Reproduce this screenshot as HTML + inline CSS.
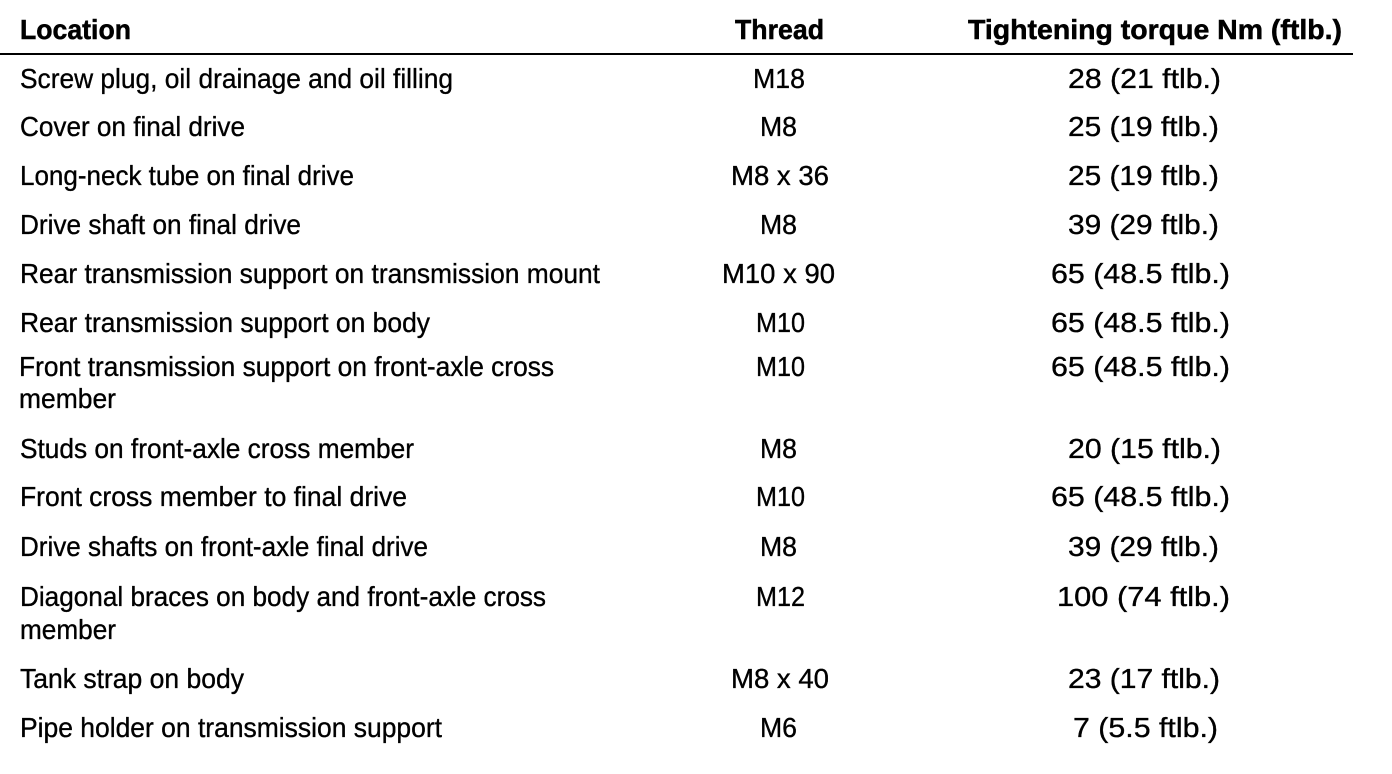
<!DOCTYPE html>
<html>
<head>
<meta charset="utf-8">
<style>
  html,body{margin:0;padding:0;background:#fff;}
  svg{display:block;}
  text{font-family:"Liberation Sans", sans-serif;font-size:28px;fill:#000;stroke:#000;stroke-width:0.35px;}
  .h{font-weight:bold;font-size:28px;stroke-width:0.5px;}
</style>
</head>
<body>
<svg width="1392" height="774" viewBox="0 0 1392 774" xmlns="http://www.w3.org/2000/svg">
  <rect x="0" y="0" width="1392" height="774" fill="#fff"/>
  <!-- header -->
  <text class="h" x="20" y="39" textLength="111" lengthAdjust="spacingAndGlyphs">Location</text>
  <text class="h" x="735" y="39" textLength="89" lengthAdjust="spacingAndGlyphs">Thread</text>
  <text class="h" x="968" y="39" textLength="374" lengthAdjust="spacingAndGlyphs">Tightening torque Nm (ftlb.)</text>
  <rect x="0" y="53" width="1353" height="2" fill="#000"/>

  <!-- Location column -->
  <text x="20" y="88" textLength="433" lengthAdjust="spacingAndGlyphs">Screw plug, oil drainage and oil filling</text>
  <text x="20" y="136" textLength="225" lengthAdjust="spacingAndGlyphs">Cover on final drive</text>
  <text x="20" y="185" textLength="334" lengthAdjust="spacingAndGlyphs">Long-neck tube on final drive</text>
  <text x="20" y="234" textLength="281" lengthAdjust="spacingAndGlyphs">Drive shaft on final drive</text>
  <text x="20" y="283" textLength="580" lengthAdjust="spacingAndGlyphs">Rear transmission support on transmission mount</text>
  <text x="20" y="332" textLength="410" lengthAdjust="spacingAndGlyphs">Rear transmission support on body</text>
  <text x="19" y="376" textLength="535" lengthAdjust="spacingAndGlyphs">Front transmission support on front-axle cross</text>
  <text x="19" y="408" textLength="97" lengthAdjust="spacingAndGlyphs">member</text>
  <text x="20" y="458" textLength="394" lengthAdjust="spacingAndGlyphs">Studs on front-axle cross member</text>
  <text x="20" y="506" textLength="387" lengthAdjust="spacingAndGlyphs">Front cross member to final drive</text>
  <text x="20" y="556" textLength="408" lengthAdjust="spacingAndGlyphs">Drive shafts on front-axle final drive</text>
  <text x="20" y="606" textLength="526" lengthAdjust="spacingAndGlyphs">Diagonal braces on body and front-axle cross</text>
  <text x="20" y="639" textLength="96" lengthAdjust="spacingAndGlyphs">member</text>
  <text x="20" y="688" textLength="224" lengthAdjust="spacingAndGlyphs">Tank strap on body</text>
  <text x="20" y="737" textLength="422" lengthAdjust="spacingAndGlyphs">Pipe holder on transmission support</text>

  <!-- Thread column -->
  <text x="753" y="88" textLength="52" lengthAdjust="spacingAndGlyphs">M18</text>
  <text x="760" y="136" textLength="37" lengthAdjust="spacingAndGlyphs">M8</text>
  <text x="731" y="185" textLength="98" lengthAdjust="spacingAndGlyphs">M8 x 36</text>
  <text x="760" y="234" textLength="37" lengthAdjust="spacingAndGlyphs">M8</text>
  <text x="722" y="283" textLength="113" lengthAdjust="spacingAndGlyphs">M10 x 90</text>
  <text x="756" y="332" textLength="49" lengthAdjust="spacingAndGlyphs">M10</text>
  <text x="756" y="376" textLength="49" lengthAdjust="spacingAndGlyphs">M10</text>
  <text x="760" y="458" textLength="37" lengthAdjust="spacingAndGlyphs">M8</text>
  <text x="756" y="506" textLength="49" lengthAdjust="spacingAndGlyphs">M10</text>
  <text x="760" y="556" textLength="37" lengthAdjust="spacingAndGlyphs">M8</text>
  <text x="756" y="606" textLength="49" lengthAdjust="spacingAndGlyphs">M12</text>
  <text x="731" y="688" textLength="98" lengthAdjust="spacingAndGlyphs">M8 x 40</text>
  <text x="760" y="737" textLength="37" lengthAdjust="spacingAndGlyphs">M6</text>

  <!-- Torque column -->
  <text x="1068" y="88" textLength="153" lengthAdjust="spacingAndGlyphs">28 (21 ftlb.)</text>
  <text x="1068" y="136" textLength="151" lengthAdjust="spacingAndGlyphs">25 (19 ftlb.)</text>
  <text x="1068" y="185" textLength="151" lengthAdjust="spacingAndGlyphs">25 (19 ftlb.)</text>
  <text x="1068" y="234" textLength="151" lengthAdjust="spacingAndGlyphs">39 (29 ftlb.)</text>
  <text x="1051" y="283" textLength="179" lengthAdjust="spacingAndGlyphs">65 (48.5 ftlb.)</text>
  <text x="1051" y="332" textLength="179" lengthAdjust="spacingAndGlyphs">65 (48.5 ftlb.)</text>
  <text x="1051" y="376" textLength="179" lengthAdjust="spacingAndGlyphs">65 (48.5 ftlb.)</text>
  <text x="1068" y="458" textLength="153" lengthAdjust="spacingAndGlyphs">20 (15 ftlb.)</text>
  <text x="1051" y="506" textLength="179" lengthAdjust="spacingAndGlyphs">65 (48.5 ftlb.)</text>
  <text x="1068" y="556" textLength="151" lengthAdjust="spacingAndGlyphs">39 (29 ftlb.)</text>
  <text x="1057" y="606" textLength="173" lengthAdjust="spacingAndGlyphs">100 (74 ftlb.)</text>
  <text x="1068" y="688" textLength="152" lengthAdjust="spacingAndGlyphs">23 (17 ftlb.)</text>
  <text x="1073" y="737" textLength="145" lengthAdjust="spacingAndGlyphs">7 (5.5 ftlb.)</text>
</svg>
</body>
</html>
